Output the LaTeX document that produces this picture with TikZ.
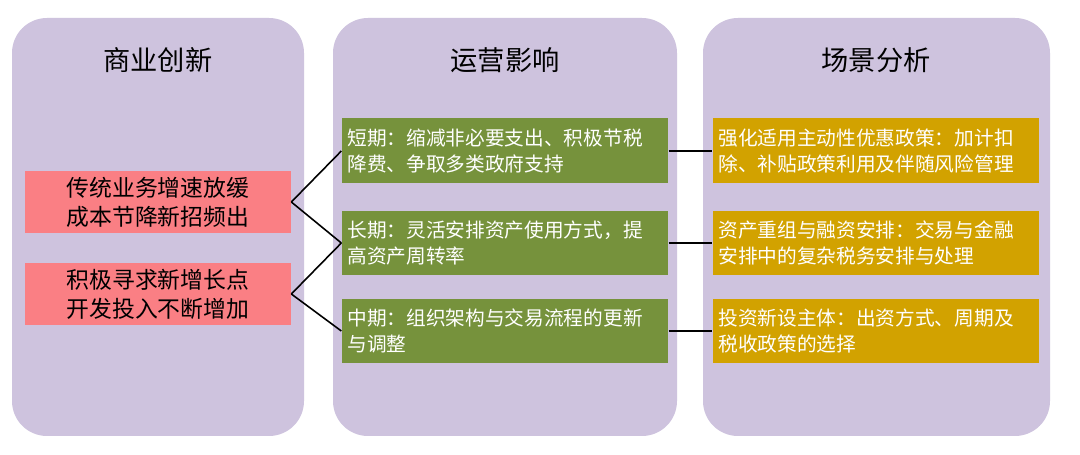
\documentclass[tikz,border=0pt]{standalone}
\usepackage{fontspec}
\setmainfont{Noto Sans CJK SC}
\begin{document}
\begin{tikzpicture}[x=0.02cm,y=-0.02cm,
panel/.style={fill=panelc,rounded corners=0.7cm,draw=none},
ttl/.style={font=\fontsize{15.5}{18}\selectfont},
pinkbox/.style={fill=pinkc,minimum width=5.32cm,minimum height=1.26cm,align=left,font=\fontsize{13}{16.5}\selectfont},
gbox/.style={fill=greenc,text=white,minimum width=6.52cm,minimum height=1.3cm,text width=6.3cm,align=left,font=\fontsize{11.2}{14.5}\selectfont},
ybox/.style={fill=goldc,text=white,minimum width=6.5cm,minimum height=1.3cm,text width=6.3cm,align=left,font=\fontsize{11.2}{14.5}\selectfont},
ln/.style={draw=black,line width=0.9pt}]
\definecolor{panelc}{HTML}{CEC3DE}
\definecolor{pinkc}{HTML}{FA7F84}
\definecolor{greenc}{HTML}{76923C}
\definecolor{goldc}{HTML}{D2A200}
\useasboundingbox (0,0) rectangle (1080,455);
\fill[white] (0,0) rectangle (1080,455);
\path[panel] (12,18) rectangle (304,436);
\path[panel] (333,18) rectangle (677,436);
\path[panel] (703,18) rectangle (1050,436);
\node[ttl] (t1) at (158,60) {商业创新};
\node[ttl] (t2) at (505,60) {运营影响};
\node[ttl] (t3) at (876,60) {场景分析};
\node[pinkbox] (p1) at (158,202) {传统业务增速放缓\\成本节降新招频出};
\node[pinkbox] (p2) at (158,294) {积极寻求新增长点\\开发投入不断增加};
\node[gbox] (g1) at (505,151) {短期：缩减非必要支出、积极节税\\降费、争取多类政府支持};
\node[gbox] (g2) at (505,243) {长期：灵活安排资产使用方式，提\\高资产周转率};
\node[gbox] (g3) at (505,331) {中期：组织架构与交易流程的更新\\与调整};
\node[ybox] (y1) at (876,151) {强化适用主动性优惠政策：加计扣\\除、补贴政策利用及伴随风险管理};
\node[ybox] (y2) at (876,243) {资产重组与融资安排：交易与金融\\安排中的复杂税务安排与处理};
\node[ybox] (y3) at (876,331) {投资新设主体：出资方式、周期及\\税收政策的选择};
\draw[ln] (p1.east) -- (g1.west);
\draw[ln] (p1.east) -- (g2.west);
\draw[ln] (p2.east) -- (g2.west);
\draw[ln] (p2.east) -- (g3.west);
\draw[ln] (g1.east) -- (y1.west);
\draw[ln] (g2.east) -- (y2.west);
\draw[ln] (g3.east) -- (y3.west);
\end{tikzpicture}
\end{document}
